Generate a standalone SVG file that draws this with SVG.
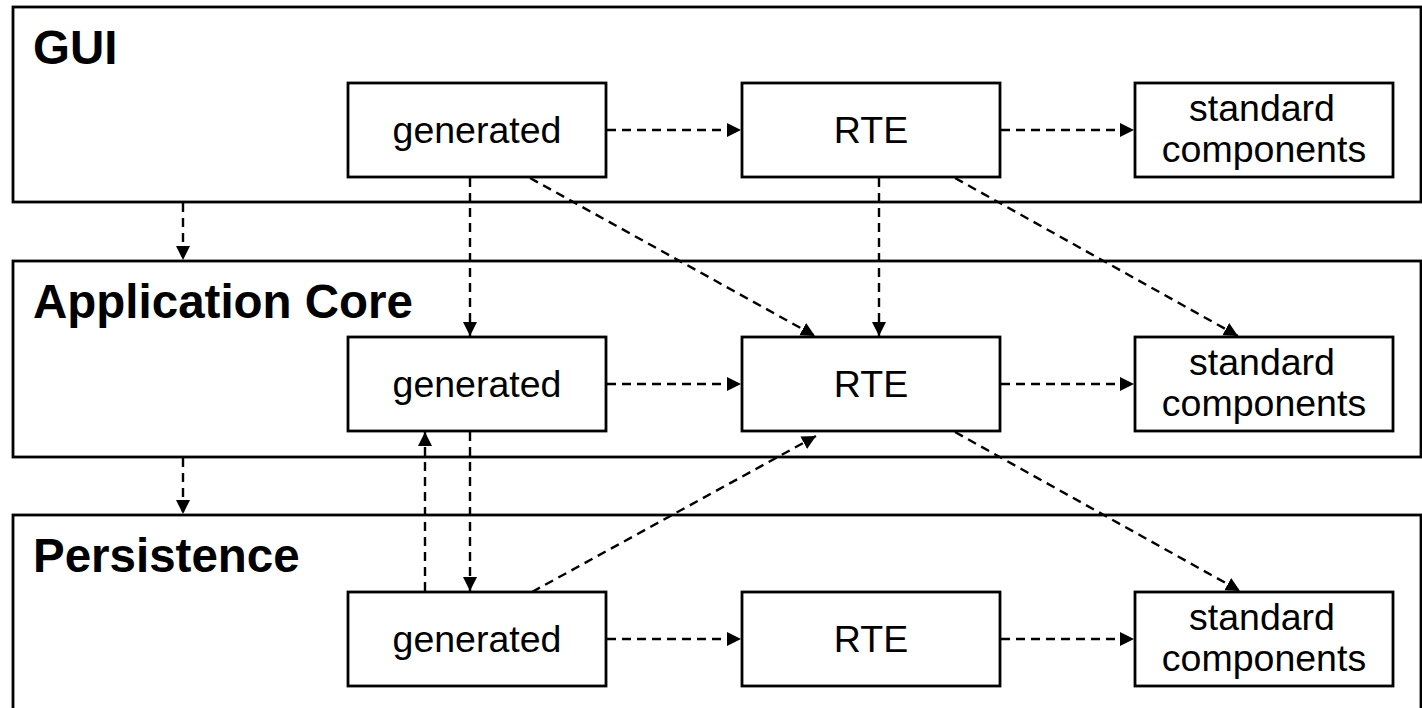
<svg xmlns="http://www.w3.org/2000/svg" width="1422" height="708" viewBox="0 0 1422 708">
  <style>
    .layer { fill: #ffffff; stroke: #000000; stroke-width: 2.8; }
    .box { fill: #ffffff; stroke: #000000; stroke-width: 2.8; }
    .title { font-family: "Liberation Sans", Arial, sans-serif; font-weight: bold; font-size: 47.5px; fill: #000000; }
    .label { font-family: "Liberation Sans", Arial, sans-serif; font-size: 37.5px; fill: #000000; text-anchor: middle; }
    .dep { fill: none; stroke: #000000; stroke-width: 2.4; stroke-dasharray: 9 6; marker-end: url(#arrow); }
  </style>
  <defs>
    <marker id="arrow" markerUnits="userSpaceOnUse" markerWidth="16" markerHeight="16" refX="14" refY="7" orient="auto">
      <path d="M0,0 L14,7 L0,14 Z" fill="#000000"/>
    </marker>
  </defs>
  <rect width="1422" height="708" fill="#ffffff"/>

  <!-- layer: GUI -->
  <g id="layer-gui">
    <rect class="layer" x="13" y="7" width="1408" height="195"/>
    <text class="title" x="33" y="64">GUI</text>
  </g>
  <!-- layer: Application Core -->
  <g id="layer-core">
    <rect class="layer" x="13" y="261" width="1408" height="196"/>
    <text class="title" x="33" y="318">Application Core</text>
  </g>
  <!-- layer: Persistence -->
  <g id="layer-persistence">
    <rect class="layer" x="13" y="515" width="1408" height="210"/>
    <text class="title" x="33" y="572">Persistence</text>
  </g>

  <!-- GUI components -->
  <g id="gui-generated">
    <rect class="box" x="348" y="83" width="258" height="94"/>
    <text class="label" x="477" y="143">generated</text>
  </g>
  <g id="gui-rte">
    <rect class="box" x="742" y="83" width="258" height="94"/>
    <text class="label" x="871" y="143">RTE</text>
  </g>
  <g id="gui-standard">
    <rect class="box" x="1135" y="83" width="258" height="94"/>
    <text class="label" x="1262" y="121">standard</text>
    <text class="label" x="1264" y="162">components</text>
  </g>

  <!-- Application Core components -->
  <g id="core-generated">
    <rect class="box" x="348" y="337" width="258" height="94"/>
    <text class="label" x="477" y="397">generated</text>
  </g>
  <g id="core-rte">
    <rect class="box" x="742" y="337" width="258" height="94"/>
    <text class="label" x="871" y="397">RTE</text>
  </g>
  <g id="core-standard">
    <rect class="box" x="1135" y="337" width="258" height="94"/>
    <text class="label" x="1262" y="375">standard</text>
    <text class="label" x="1264" y="416">components</text>
  </g>

  <!-- Persistence components -->
  <g id="persistence-generated">
    <rect class="box" x="348" y="592" width="258" height="94"/>
    <text class="label" x="477" y="652">generated</text>
  </g>
  <g id="persistence-rte">
    <rect class="box" x="742" y="592" width="258" height="94"/>
    <text class="label" x="871" y="652">RTE</text>
  </g>
  <g id="persistence-standard">
    <rect class="box" x="1135" y="592" width="258" height="94"/>
    <text class="label" x="1262" y="630">standard</text>
    <text class="label" x="1264" y="671">components</text>
  </g>

  <!-- dependencies -->
  <g id="connectors">
    <!-- layer to layer -->
    <line class="dep" x1="183" y1="203" x2="183" y2="260"/>
    <line class="dep" x1="183" y1="458" x2="183" y2="514"/>
    <!-- within rows -->
    <line class="dep" x1="607" y1="130" x2="741" y2="130"/>
    <line class="dep" x1="1001" y1="130" x2="1134" y2="130"/>
    <line class="dep" x1="607" y1="384" x2="741" y2="384"/>
    <line class="dep" x1="1001" y1="384" x2="1134" y2="384"/>
    <line class="dep" x1="607" y1="639" x2="741" y2="639"/>
    <line class="dep" x1="1001" y1="639" x2="1134" y2="639"/>
    <!-- vertical -->
    <line class="dep" x1="470" y1="178" x2="470" y2="336"/>
    <line class="dep" x1="879" y1="178" x2="879" y2="336"/>
    <line class="dep" x1="470" y1="432" x2="470" y2="591"/>
    <line class="dep" x1="425" y1="591" x2="425" y2="432"/>
    <!-- diagonal -->
    <line class="dep" x1="530" y1="178" x2="815" y2="336"/>
    <line class="dep" x1="955" y1="178" x2="1238" y2="336"/>
    <line class="dep" x1="955" y1="432" x2="1240" y2="591"/>
    <line class="dep" x1="532" y1="592" x2="816" y2="436"/>
  </g>
</svg>
